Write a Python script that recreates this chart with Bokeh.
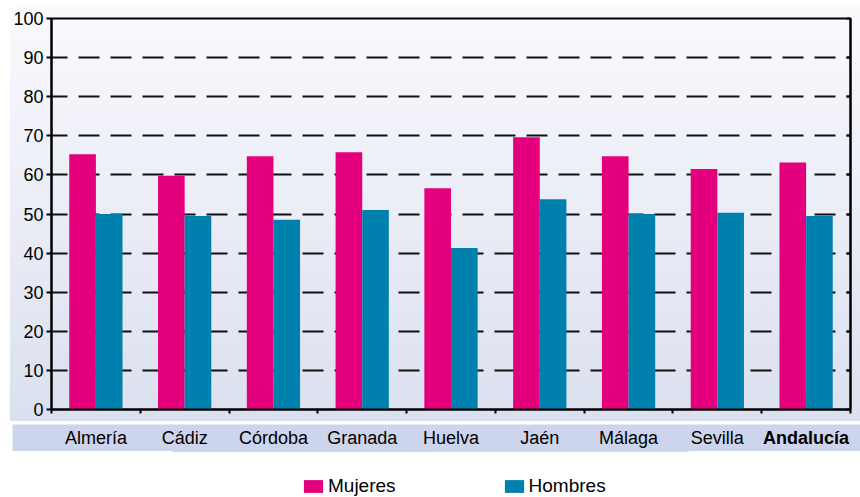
from bokeh.plotting import figure
from bokeh.layouts import column
from bokeh.models import (ColumnDataSource, Range1d, FixedTicker, LinearAxis,
                          Legend, LegendItem, Grid, CustomJSTickFormatter)
from bokeh.core.properties import value, field
from bokeh.embed import file_html
from bokeh.resources import INLINE

# ---------------- data ----------------
categories = ["Almería", "Cádiz", "Córdoba", "Granada", "Huelva", "Jaén",
              "Málaga", "Sevilla", "Andalucía"]
mujeres = [65.3, 59.8, 64.8, 65.8, 56.6, 69.6, 64.8, 61.5, 63.2]
hombres = [50.0, 49.5, 48.5, 51.0, 41.3, 53.8, 50.0, 50.3, 49.5]
label_styles = ["normal"] * 8 + ["bold"]
y_ticks = [0, 10, 20, 30, 40, 50, 60, 70, 80, 90, 100]
series_names = ["Mujeres", "Hombres"]

PINK = "#e4007c"
TEAL = "#0081ad"
BAND = "#cdd5ec"
FONT = "Liberation Sans"

n = len(categories)
centers = [i + 0.5 for i in range(n)]
src = ColumnDataSource(dict(
    cat=categories,
    xm=[c - 0.15 for c in centers],
    xh=[c + 0.15 for c in centers],
    mujeres=mujeres,
    hombres=hombres,
))

# ---------------- geometry ----------------
PAGE_W = 860
MAIN_X = 10
MAIN_Y = 7
W = PAGE_W - MAIN_X
MAIN_H = 414
LEFT = 41
RIGHT = 10
TOP = 11
BOTTOM = 12

empty_fmt = CustomJSTickFormatter(code="return ''")

p = figure(width=W, height=MAIN_H, output_backend="svg", toolbar_location=None,
           x_range=Range1d(0, n), y_range=Range1d(0, 100),
           min_border_left=LEFT, min_border_right=RIGHT,
           min_border_top=TOP, min_border_bottom=BOTTOM,
           x_axis_type=None, y_axis_type=None,
           margin=(MAIN_Y, 0, 0, MAIN_X))
p.frame_align = False
p.border_fill_color = None
p.background_fill_color = None
p.styles = {"background": "linear-gradient(to bottom, #fafafd 0%, #eceef7 45%, #dbe0ef 100%)"}
p.outline_line_color = "black"
p.outline_line_width = 2

grid = Grid(dimension=1, ticker=FixedTicker(ticks=y_ticks))
grid.grid_line_color = "#111111"
grid.grid_line_width = 2
grid.grid_line_dash = "21 11"
grid.grid_line_dash_offset = 5
p.add_layout(grid)

p.vbar(x="xm", top="mujeres", width=0.3, source=src, fill_color=PINK, line_color=None)
p.vbar(x="xh", top="hombres", width=0.3, source=src, fill_color=TEAL, line_color=None)

# left axis
ya = LinearAxis(ticker=FixedTicker(ticks=y_ticks))
ya.axis_line_width = 2
ya.major_tick_line_width = 2
ya.major_tick_out = 5
ya.major_tick_in = 0
ya.minor_tick_line_color = None
ya.major_label_standoff = 3
ya.major_label_text_font = FONT
ya.major_label_text_font_size = "18px"
ya.major_label_text_color = "black"
p.add_layout(ya, "left")

# right axis (ticks only, inward)
ra = LinearAxis(ticker=FixedTicker(ticks=y_ticks), formatter=empty_fmt)
ra.axis_line_width = 2
ra.major_tick_line_width = 2
ra.major_tick_out = 0
ra.major_tick_in = 4
ra.minor_tick_line_color = None
ra.major_label_text_font_size = "1px"
ra.major_label_standoff = 0
p.add_layout(ra, "right")

# bottom axis (category boundary ticks)
xa = LinearAxis(ticker=FixedTicker(ticks=list(range(n + 1))), formatter=empty_fmt)
xa.axis_line_width = 2
xa.major_tick_line_width = 2
xa.major_tick_out = 4
xa.major_tick_in = 0
xa.minor_tick_line_color = None
xa.major_label_text_font_size = "1px"
xa.major_label_standoff = 0
p.add_layout(xa, "below")

# ---------------- label band ----------------
frame_px = W - LEFT - RIGHT
unit = frame_px / n
BAND_X = 12
BAND_GAP = 3
BAND_H = 27
band_w = PAGE_W - BAND_X
frame_left_page = MAIN_X + LEFT
b_start = (BAND_X - frame_left_page) / unit
b_end = n + (PAGE_W - (MAIN_X + W - RIGHT)) / unit

band = figure(width=band_w, height=BAND_H, output_backend="svg", toolbar_location=None,
              x_range=Range1d(b_start, b_end), y_range=Range1d(0, 1),
              min_border_left=0, min_border_right=0, min_border_top=0, min_border_bottom=0,
              x_axis_type=None, y_axis_type=None, margin=(BAND_GAP, 0, 0, BAND_X))
band.frame_align = False
band.background_fill_color = BAND
band.border_fill_color = BAND
band.outline_line_color = None
lab_src = ColumnDataSource(dict(x=centers, name=categories, style=label_styles))
band.text(x="x", y=0.5, text="name", source=lab_src, text_align="center",
          text_baseline="middle", text_font=value(FONT), text_font_size="18px",
          text_font_style=field("style"), text_color="black")

# ---------------- legend ----------------
LEG_H = 497 - (MAIN_Y + MAIN_H + BAND_GAP + BAND_H)
lg = figure(width=PAGE_W, height=LEG_H, output_backend="svg", toolbar_location=None,
            x_range=Range1d(0, 1), y_range=Range1d(-2, -1),
            min_border_left=0, min_border_right=0, min_border_top=0, min_border_bottom=0,
            x_axis_type=None, y_axis_type=None)
lg.frame_align = False
lg.outline_line_color = None
lg.background_fill_color = "white"
lg.border_fill_color = "white"
# swatch-only renderers (their bars lie outside this strip's range)
rm = lg.vbar(x="xm", top="mujeres", width=0.3, source=src, fill_color=PINK, line_color=None)
rh = lg.vbar(x="xh", top="hombres", width=0.3, source=src, fill_color=TEAL, line_color=None)
legend = Legend(items=[LegendItem(label=series_names[0], renderers=[rm]),
                       LegendItem(label=series_names[1], renderers=[rh])],
                orientation="horizontal", location=(301, 0))
legend.glyph_width = 24
legend.glyph_height = 16
legend.label_standoff = 3
legend.spacing = 106
legend.padding = 0
legend.margin = 0
legend.border_line_color = None
legend.background_fill_alpha = 0
legend.label_text_font = FONT
legend.label_text_font_size = "19px"
legend.label_text_color = "black"
lg.add_layout(legend, "center")

layout = column(p, band, lg, spacing=0)

open("out.html", "w").write(file_html(layout, INLINE))
